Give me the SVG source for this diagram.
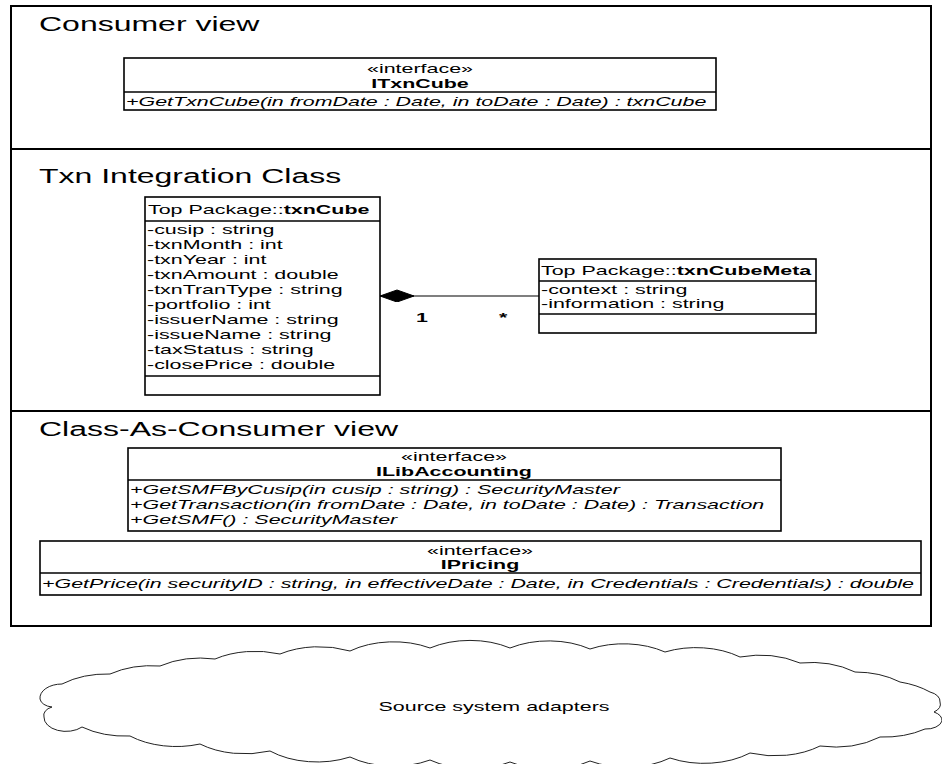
<svg xmlns="http://www.w3.org/2000/svg" width="942" height="764" viewBox="0 0 942 764">
  <defs>
    <style>
      .frame { fill: none; stroke: #000; stroke-width: 2; }
      .box { fill: #fff; stroke: #000; stroke-width: 1.6; }
      .sep { fill: none; stroke: #000; stroke-width: 1.6; }
      .t { font-family: "Liberation Sans", Arial, sans-serif; font-size: 13.4px; fill: #000; }
      .title { font-size: 20px; }
      .it { font-style: italic; }
      .b { font-weight: bold; }
      .mid { text-anchor: middle; }
      .edge { fill: none; stroke: #000; stroke-width: 1.2; }
      .cloud { fill: #fff; stroke: #222; stroke-width: 1; }
    </style>
    <marker id="composition" markerUnits="userSpaceOnUse" markerWidth="36" markerHeight="14" refX="34" refY="6" orient="auto" viewBox="0 0 36 14">
      <path d="M0,6 L17,0 L34,6 L17,12 Z" fill="#000" stroke="#000" stroke-width="1"/>
    </marker>
  </defs>

  <rect width="942" height="764" fill="#fff"/>

  <!-- package frame with three horizontal compartments -->
  <g id="package-frame">
    <rect class="frame" x="11" y="6" width="920" height="620"/>
    <line class="frame" x1="11" y1="149" x2="931" y2="149"/>
    <line class="frame" x1="11" y1="411" x2="931" y2="411"/>
    <text class="t title" transform="matrix(1.6 0 0 1 39 31)">Consumer view</text>
    <text class="t title" transform="matrix(1.6 0 0 1 39 183)">Txn Integration Class</text>
    <text class="t title" transform="matrix(1.6 0 0 1 39 436)">Class-As-Consumer view</text>
  </g>

  <!-- ITxnCube interface -->
  <g id="ITxnCube">
    <rect class="box" x="124" y="58" width="592" height="52"/>
    <line class="sep" x1="124" y1="92" x2="716" y2="92"/>
    <text class="t mid" transform="matrix(1.6 0 0 1 420 73)">«interface»</text>
    <text class="t mid b" transform="matrix(1.6 0 0 1 420 88)">ITxnCube</text>
    <text class="t it" transform="matrix(1.6 0 0 1 126 106)">+GetTxnCube(in fromDate : Date, in toDate : Date) : txnCube</text>
  </g>

  <!-- txnCube class -->
  <g id="txnCube">
    <rect class="box" x="145" y="197" width="235" height="198"/>
    <line class="sep" x1="145" y1="221" x2="380" y2="221"/>
    <line class="sep" x1="145" y1="376" x2="380" y2="376"/>
    <text class="t" transform="matrix(1.6 0 0 1 148 214)">Top Package::<tspan class="b">txnCube</tspan></text>
    <text class="t" transform="matrix(1.6 0 0 1 147 234)">-cusip : string</text>
    <text class="t" transform="matrix(1.6 0 0 1 147 249)">-txnMonth : int</text>
    <text class="t" transform="matrix(1.6 0 0 1 147 264)">-txnYear : int</text>
    <text class="t" transform="matrix(1.6 0 0 1 147 279)">-txnAmount : double</text>
    <text class="t" transform="matrix(1.6 0 0 1 147 294)">-txnTranType : string</text>
    <text class="t" transform="matrix(1.6 0 0 1 147 309)">-portfolio : int</text>
    <text class="t" transform="matrix(1.6 0 0 1 147 324)">-issuerName : string</text>
    <text class="t" transform="matrix(1.6 0 0 1 147 339)">-issueName : string</text>
    <text class="t" transform="matrix(1.6 0 0 1 147 354)">-taxStatus : string</text>
    <text class="t" transform="matrix(1.6 0 0 1 147 369)">-closePrice : double</text>
  </g>

  <!-- txnCubeMeta class -->
  <g id="txnCubeMeta">
    <rect class="box" x="539" y="259" width="277" height="74"/>
    <line class="sep" x1="539" y1="281" x2="816" y2="281"/>
    <line class="sep" x1="539" y1="314" x2="816" y2="314"/>
    <text class="t" transform="matrix(1.6 0 0 1 541 275)">Top Package::<tspan class="b">txnCubeMeta</tspan></text>
    <text class="t" transform="matrix(1.6 0 0 1 541 294)">-context : string</text>
    <text class="t" transform="matrix(1.6 0 0 1 541 308)">-information : string</text>
  </g>

  <!-- ILibAccounting interface -->
  <g id="ILibAccounting">
    <rect class="box" x="128" y="448" width="653" height="83"/>
    <line class="sep" x1="128" y1="480" x2="781" y2="480"/>
    <text class="t mid" transform="matrix(1.6 0 0 1 454 461)">«interface»</text>
    <text class="t mid b" transform="matrix(1.6 0 0 1 454 476)">ILibAccounting</text>
    <text class="t it" transform="matrix(1.6 0 0 1 130 494)">+GetSMFByCusip(in cusip : string) : SecurityMaster</text>
    <text class="t it" transform="matrix(1.6 0 0 1 130 509)">+GetTransaction(in fromDate : Date, in toDate : Date) : Transaction</text>
    <text class="t it" transform="matrix(1.6 0 0 1 130 524)">+GetSMF() : SecurityMaster</text>
  </g>

  <!-- IPricing interface -->
  <g id="IPricing">
    <rect class="box" x="40" y="541" width="881" height="54"/>
    <line class="sep" x1="40" y1="573" x2="921" y2="573"/>
    <text class="t mid" transform="matrix(1.6 0 0 1 480 555)">«interface»</text>
    <text class="t mid b" transform="matrix(1.6 0 0 1 480 569)">IPricing</text>
    <text class="t it" transform="matrix(1.6 0 0 1 42 588)">+GetPrice(in securityID : string, in effectiveDate : Date, in Credentials : Credentials) : double</text>
  </g>

  <!-- source system cloud -->
  <g id="source-system-adapters">
    <path class="cloud" d="M40,699 A22,14 0 0 1 62,684 A72,45 0 0 1 110,674 A72,45 0 0 1 160,666 A72,45 0 0 1 215,659 A72,45 0 0 1 280,654 A72,45 0 0 1 350,651 A72,45 0 0 1 430,648 A72,45 0 0 1 510,648 A72,45 0 0 1 590,649 A72,45 0 0 1 665,652 A72,45 0 0 1 740,657 A72,45 0 0 1 800,663 A72,45 0 0 1 855,672 A72,45 0 0 1 900,682 A72,45 0 0 1 930,692 A16,10 0 0 1 940,702 A16,10 0 0 1 934,712 A16,10 0 0 1 942,721 A16,10 0 0 1 925,729 A72,45 0 0 1 880,737 A72,45 0 0 1 820,746 A72,45 0 0 1 750,753 A72,45 0 0 1 670,758 A72,45 0 0 1 590,761 A72,45 0 0 1 510,762 A72,45 0 0 1 430,760 A72,45 0 0 1 350,757 A72,45 0 0 1 270,751 A72,45 0 0 1 200,744 A72,45 0 0 1 130,736 A72,45 0 0 1 82,727 A22,14 0 0 1 44,717 A14,9 0 0 1 52,707 A14,9 0 0 1 40,699 Z"/>
    <text class="t mid" transform="matrix(1.6 0 0 1 494 711)">Source system adapters</text>
  </g>

  <!-- composition: txnCube (1) owns txnCubeMeta (*) -->
  <g id="connectors">
    <line class="edge" x1="539" y1="296" x2="380" y2="296" marker-end="url(#composition)"/>
    <text class="t b" transform="matrix(1.6 0 0 1 416 322)">1</text>
    <text class="t b" transform="matrix(1.6 0 0 1 499 322)">*</text>
  </g>
</svg>
